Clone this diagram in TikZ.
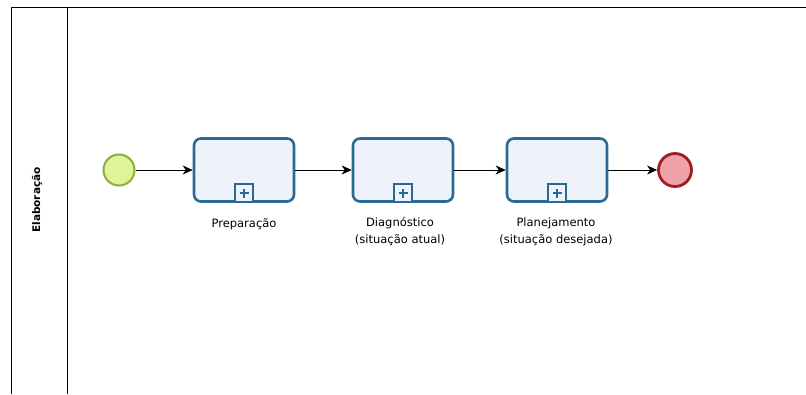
\documentclass[tikz,border=0pt]{standalone}
\usepackage{fontspec}
\setmainfont{DejaVu Sans}
\usetikzlibrary{arrows.meta}

\definecolor{azultarefa}{HTML}{2A6A92}
\definecolor{fundotarefa}{HTML}{EDF2FB}
\definecolor{verdeinicio}{HTML}{8AAE3A}
\definecolor{fundoinicio}{HTML}{E0F29A}
\definecolor{vermelhofim}{HTML}{A11D22}
\definecolor{fundofim}{HTML}{EFA3A8}

\begin{document}
\begin{tikzpicture}[x=1pt, y=-1pt,
    tarefa/.style={draw=azultarefa, line width=2.6pt, fill=fundotarefa,
      rounded corners=7pt, minimum width=100pt, minimum height=63pt, inner sep=0pt},
    marca/.style={draw=azultarefa, line width=1.4pt, fill=fundotarefa,
      minimum size=18pt, inner sep=0pt, anchor=south},
    mais/.style={draw=azultarefa, line width=2.6pt},
    fluxo/.style={-{Stealth[length=10pt, width=9pt, inset=3pt]}, line width=0.8pt},
    rotulo/.style={font=\fontsize{11.5}{17}\selectfont, align=center}]
    \useasboundingbox (0,0) rectangle (806,394);

    % pool and lane
    \draw[line width=0.8pt] (806,7) -- (11,7) -- (11,394);
    \draw[line width=0.8pt] (67,7) -- (67,394);
    \node[rotate=90, font=\bfseries\fontsize{10.5}{12}\selectfont] (raia) at (37,200) {Elaboração};

    % events
    \node[circle, draw=verdeinicio, line width=2pt, fill=fundoinicio, minimum size=31pt] (inicio) at (119,170) {};
    \node[circle, draw=vermelhofim, line width=2.8pt, fill=fundofim, minimum size=33pt] (fim) at (675,170) {};

    % sub-processes
    \node[tarefa] (prep) at (244,170) {};
    \node[tarefa] (diag) at (403,170) {};
    \node[tarefa] (plan) at (557,170) {};

    \node[marca] (mprep) at (prep.south) {};
    \node[marca] (mdiag) at (diag.south) {};
    \node[marca] (mplan) at (plan.south) {};
    \draw[mais] ([xshift=-4.5pt]mprep.center) -- ([xshift=4.5pt]mprep.center)
      ([yshift=-4.5pt]mprep.center) -- ([yshift=4.5pt]mprep.center);
    \draw[mais] ([xshift=-4.5pt]mdiag.center) -- ([xshift=4.5pt]mdiag.center)
      ([yshift=-4.5pt]mdiag.center) -- ([yshift=4.5pt]mdiag.center);
    \draw[mais] ([xshift=-4.5pt]mplan.center) -- ([xshift=4.5pt]mplan.center)
      ([yshift=-4.5pt]mplan.center) -- ([yshift=4.5pt]mplan.center);

    \node[rotulo] (lprep) at (244,224) {Preparação};
    \node[rotulo] (ldiag) at (400,232) {Diagnóstico\\(situação atual)};
    \node[rotulo] (lplan) at (556,232) {Planejamento\\(situação desejada)};

    % sequence flows
    \draw[fluxo] (inicio) -- (prep);
    \draw[fluxo] (prep) -- (diag);
    \draw[fluxo] (diag) -- (plan);
    \draw[fluxo] (plan) -- (fim);
  \end{tikzpicture}
\end{document}
